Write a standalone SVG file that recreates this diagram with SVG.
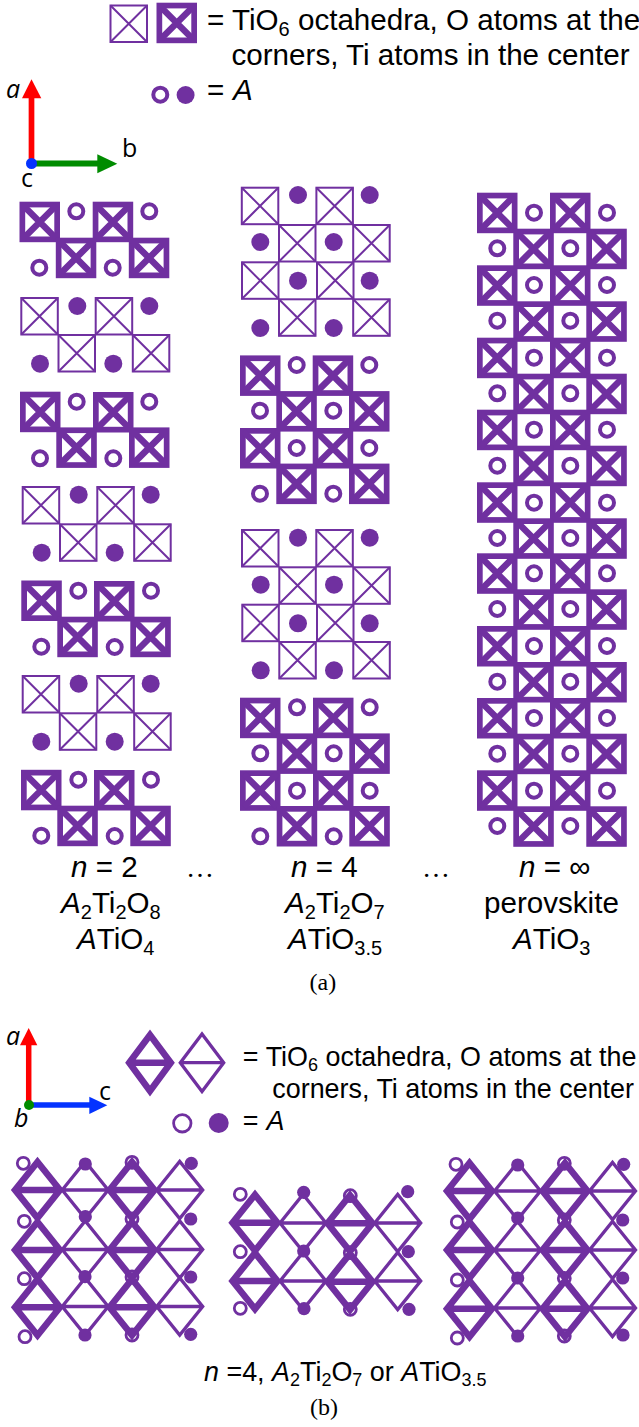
<svg xmlns="http://www.w3.org/2000/svg" width="639" height="1427" viewBox="0 0 639 1427">
<style>
.p{fill:#7030a0}
.tl{fill:#fff;stroke:#7030a0;stroke-width:2}
.x1{stroke:#7030a0;stroke-width:2}
.x2{stroke:#7030a0;stroke-width:6.5}
.o{fill:#fff;stroke:#7030a0;stroke-width:4}
.d1{fill:none;stroke:#7030a0;stroke-width:3.3;stroke-miterlimit:10}
.d2{fill:none;stroke:#7030a0;stroke-width:6.5;stroke-miterlimit:10}
text{font-family:"Liberation Sans",Arial,sans-serif;fill:#000}
.t{font-size:29.6px}
.s{font-size:26.9px}
.ax{font-family:"Open Sans",sans-serif;font-size:25px}
.cap{font-family:"Liberation Serif",serif;font-size:24px}
.dots{font-family:"Liberation Serif",serif;font-size:28px}
.i{font-style:italic}
</style>
<defs>
<g id="T"><rect class="tl" x="1" y="1" width="36.5" height="36.5"/><path class="x1" d="M1 1L37.5 37.5M37.5 1L1 37.5"/></g>
<g id="B"><rect x="2.85" y="2.85" width="34.8" height="34.8" fill="#fff" stroke="#7030a0" stroke-width="5.7"/><path class="x2" d="M3.5 3.5L37 37M37 3.5L3.5 37"/></g>
<circle id="O" class="o" r="7"/>
<circle id="F" class="p" r="9"/>
<g id="DB"><path class="d2" d="M-22.5 0L0 -28L22.5 0L0 28ZM-22.5 0H22.5"/></g>
<g id="DT"><path class="d1" d="M-23 0L0 -28.5L23 0L0 28.5ZM-23 0H23"/></g>
<circle id="o2" r="6" fill="none" stroke="#7030a0" stroke-width="2.8"/>
<circle id="f2" class="p" r="6.6"/>
</defs>

<g id="legend-a">
<use href="#T" x="109.5" y="4.5"/>
<use href="#B" x="156.5" y="2.7"/>
<text class="t" x="207" y="30">=</text>
<text class="t" x="232" y="30">TiO<tspan font-size="20" dy="6">6</tspan><tspan dy="-6"> octahedra, O atoms at the</tspan></text>
<text class="t" x="231.5" y="65">corners, Ti atoms in the center</text>
<circle class="o" cx="160.3" cy="94.7" r="7"/>
<circle class="p" cx="185.6" cy="95" r="9"/>
<text class="t" x="207" y="100">=</text>
<text class="t i" x="233" y="100">A</text>
</g>

<g id="axes-a">
<path d="M31.5 166V97" stroke="#f00" stroke-width="5.7"/><path d="M31.5 79.3L22 98.3H41.3Z" fill="#f00"/>
<path d="M31 163.6H98" stroke="#008c00" stroke-width="6"/><path d="M117.3 163.8L97.3 154.3V173.3Z" fill="#008c00"/>
<circle cx="31.5" cy="163.5" r="5.5" fill="#0433ff"/>
<text class="ax i" x="6" y="98">a</text>
<text class="ax" x="122" y="157">b</text>
<text class="ax" x="21" y="187">c</text>
</g>

<g id="col-n2">
<use href="#B" x="19.5" y="201.7"/><use href="#B" x="92.7" y="201.7"/><use href="#B" x="55.8" y="237.7"/><use href="#B" x="128.8" y="237.7"/>
<use href="#O" x="76.3" y="211.3"/><use href="#O" x="149.3" y="211.3"/><use href="#O" x="39.3" y="267.7"/><use href="#O" x="112.7" y="267.7"/>
<use href="#T" x="20.3" y="297"/><use href="#T" x="94.7" y="297"/><use href="#T" x="57.5" y="334"/><use href="#T" x="131.8" y="334"/>
<use href="#F" x="77.3" y="306"/><use href="#F" x="149.3" y="306"/><use href="#F" x="40" y="363.7"/><use href="#F" x="113.3" y="363.7"/>
<use href="#B" x="20" y="391.7"/><use href="#B" x="93" y="392"/><use href="#B" x="56.3" y="427.4"/><use href="#B" x="129" y="427.4"/>
<use href="#O" x="76.7" y="401.7"/><use href="#O" x="149.3" y="401.7"/><use href="#O" x="40" y="458.3"/><use href="#O" x="113.3" y="458.3"/>
<use href="#T" x="21.7" y="486"/><use href="#T" x="96.3" y="486"/><use href="#T" x="59" y="523.3"/><use href="#T" x="133.2" y="523.3"/>
<use href="#F" x="78.7" y="494.7"/><use href="#F" x="150.7" y="494.7"/><use href="#F" x="41.7" y="552.7"/><use href="#F" x="114.7" y="552.7"/>
<use href="#B" x="21.3" y="580.5"/><use href="#B" x="94" y="581"/><use href="#B" x="57.3" y="616.7"/><use href="#B" x="130.3" y="616.7"/>
<use href="#O" x="78.3" y="590.7"/><use href="#O" x="151" y="590.7"/><use href="#O" x="41.3" y="646.7"/><use href="#O" x="114.7" y="647"/>
<use href="#T" x="21.7" y="675"/><use href="#T" x="96.3" y="675"/><use href="#T" x="58.8" y="712.3"/><use href="#T" x="133.2" y="712.3"/>
<use href="#F" x="78.7" y="683.7"/><use href="#F" x="150.7" y="683.7"/><use href="#F" x="41.3" y="741.7"/><use href="#F" x="114.7" y="741.7"/>
<use href="#B" x="21" y="769.8"/><use href="#B" x="94" y="770"/><use href="#B" x="57.3" y="805.7"/><use href="#B" x="130.3" y="805.7"/>
<use href="#O" x="78.3" y="779.7"/><use href="#O" x="151" y="779.7"/><use href="#O" x="41.3" y="835.7"/><use href="#O" x="114.7" y="836"/>
</g>

<g id="col-n4">
<use href="#T" x="240.8" y="186.7"/><use href="#T" x="315.4" y="186.7"/><use href="#T" x="278" y="224"/><use href="#T" x="352.2" y="224"/>
<use href="#T" x="241" y="261.3"/><use href="#T" x="316" y="261.3"/><use href="#T" x="278" y="298.3"/><use href="#T" x="352.2" y="298.3"/>
<use href="#F" x="298" y="195"/><use href="#F" x="369.7" y="195"/><use href="#F" x="260.3" y="242"/><use href="#F" x="333.7" y="242"/><use href="#F" x="298" y="280.7"/><use href="#F" x="369.7" y="280.7"/><use href="#F" x="260.3" y="328"/><use href="#F" x="333.7" y="328"/>
<use href="#B" x="240" y="355.4"/><use href="#B" x="312.7" y="355.4"/><use href="#B" x="276.3" y="391.1"/><use href="#B" x="349" y="391.1"/>
<use href="#B" x="240" y="428"/><use href="#B" x="312.7" y="428"/><use href="#B" x="276.3" y="463.6"/><use href="#B" x="349" y="463.6"/>
<use href="#O" x="296.7" y="365"/><use href="#O" x="369.3" y="365"/><use href="#O" x="260" y="410.7"/><use href="#O" x="333.3" y="410.7"/><use href="#O" x="296.7" y="448"/><use href="#O" x="369.3" y="448"/><use href="#O" x="260" y="493.7"/><use href="#O" x="333.3" y="493.7"/>
<use href="#T" x="241" y="529"/><use href="#T" x="315.3" y="529"/><use href="#T" x="278.3" y="566.3"/><use href="#T" x="352.3" y="566.3"/>
<use href="#T" x="241.3" y="603.7"/><use href="#T" x="316" y="603.7"/><use href="#T" x="278.3" y="641"/><use href="#T" x="352.3" y="641"/>
<use href="#F" x="298" y="537.7"/><use href="#F" x="369.7" y="537.7"/><use href="#F" x="260.7" y="584.7"/><use href="#F" x="334" y="584.7"/><use href="#F" x="298" y="623.3"/><use href="#F" x="369.7" y="623.3"/><use href="#F" x="260.7" y="670.3"/><use href="#F" x="334" y="670.3"/>
<use href="#B" x="240" y="697.7"/><use href="#B" x="313" y="697.7"/><use href="#B" x="276.7" y="733.4"/><use href="#B" x="349.3" y="733.4"/>
<use href="#B" x="240" y="770.3"/><use href="#B" x="313" y="770.3"/><use href="#B" x="276.7" y="806"/><use href="#B" x="349.3" y="806"/>
<use href="#O" x="297" y="707.3"/><use href="#O" x="369.7" y="707.3"/><use href="#O" x="260.3" y="753.3"/><use href="#O" x="333.7" y="753.3"/><use href="#O" x="297" y="790.7"/><use href="#O" x="369.7" y="790.7"/><use href="#O" x="260.3" y="836.3"/><use href="#O" x="333.7" y="836.3"/>
</g>

<g id="col-perovskite">
<use href="#B" x="477" y="192.7"/><use href="#B" x="550" y="192.7"/><use href="#B" x="513.3" y="228.7"/><use href="#B" x="586.3" y="228.7"/>
<use href="#B" x="477" y="265.3"/><use href="#B" x="550" y="265.3"/><use href="#B" x="513.3" y="301.3"/><use href="#B" x="586.3" y="301.3"/>
<use href="#B" x="477" y="337.7"/><use href="#B" x="550" y="337.7"/><use href="#B" x="513.3" y="373.7"/><use href="#B" x="586.3" y="373.7"/>
<use href="#B" x="477" y="409.7"/><use href="#B" x="550" y="409.7"/><use href="#B" x="513.3" y="445.7"/><use href="#B" x="586.3" y="445.7"/>
<use href="#B" x="477" y="482.3"/><use href="#B" x="550" y="482.3"/><use href="#B" x="513.3" y="518.3"/><use href="#B" x="586.3" y="518.3"/>
<use href="#B" x="477" y="553.3"/><use href="#B" x="550" y="553.3"/><use href="#B" x="513.3" y="589.3"/><use href="#B" x="586.3" y="589.3"/>
<use href="#B" x="477" y="626"/><use href="#B" x="550" y="626"/><use href="#B" x="513.3" y="662"/><use href="#B" x="586.3" y="662"/>
<use href="#B" x="477" y="698"/><use href="#B" x="550" y="698"/><use href="#B" x="513.3" y="733.7"/><use href="#B" x="586.3" y="733.7"/>
<use href="#B" x="477" y="770.3"/><use href="#B" x="550" y="770.3"/><use href="#B" x="513.3" y="806.3"/><use href="#B" x="586.3" y="806.3"/>
<use href="#O" x="534" y="212.7"/><use href="#O" x="607" y="212.7"/><use href="#O" x="497.3" y="248.3"/><use href="#O" x="570.3" y="248.3"/>
<use href="#O" x="534" y="285"/><use href="#O" x="607" y="285"/><use href="#O" x="497.3" y="320.7"/><use href="#O" x="570.3" y="320.7"/>
<use href="#O" x="534" y="357.7"/><use href="#O" x="607" y="357.7"/><use href="#O" x="497.3" y="393.3"/><use href="#O" x="570.3" y="393.3"/>
<use href="#O" x="534" y="429.7"/><use href="#O" x="607" y="429.7"/><use href="#O" x="497.3" y="465.7"/><use href="#O" x="570.3" y="465.7"/>
<use href="#O" x="534" y="502.7"/><use href="#O" x="607" y="502.7"/><use href="#O" x="497.3" y="538"/><use href="#O" x="570.3" y="538"/>
<use href="#O" x="534" y="573.3"/><use href="#O" x="607" y="573.3"/><use href="#O" x="497.3" y="609"/><use href="#O" x="570.3" y="609"/>
<use href="#O" x="534" y="646"/><use href="#O" x="607" y="646"/><use href="#O" x="497.3" y="681.7"/><use href="#O" x="570.3" y="681.7"/>
<use href="#O" x="534" y="718"/><use href="#O" x="607" y="718"/><use href="#O" x="497.3" y="753.7"/><use href="#O" x="570.3" y="753.7"/>
<use href="#O" x="534" y="790.7"/><use href="#O" x="607" y="790.7"/><use href="#O" x="497.3" y="826"/><use href="#O" x="570.3" y="826"/>
</g>

<g id="labels-a">
<text class="t" x="71" y="876.7"><tspan class="i">n</tspan> = 2</text>
<text class="dots" x="186" y="876.7">…</text>
<text class="t" x="291" y="876.7"><tspan class="i">n</tspan> = 4</text>
<text class="dots" x="422" y="876.7">…</text>
<text class="t" x="519" y="876.7"><tspan class="i">n</tspan> = ∞</text>
<text class="t" x="61" y="912.7"><tspan class="i">A</tspan><tspan font-size="20" dy="6">2</tspan><tspan dy="-6">Ti</tspan><tspan font-size="20" dy="6">2</tspan><tspan dy="-6">O</tspan><tspan font-size="20" dy="6">8</tspan></text>
<text class="t" x="77" y="949"><tspan class="i">A</tspan>TiO<tspan font-size="20" dy="6">4</tspan></text>
<text class="t" x="285" y="912.7"><tspan class="i">A</tspan><tspan font-size="20" dy="6">2</tspan><tspan dy="-6">Ti</tspan><tspan font-size="20" dy="6">2</tspan><tspan dy="-6">O</tspan><tspan font-size="20" dy="6">7</tspan></text>
<text class="t" x="288" y="949"><tspan class="i">A</tspan>TiO<tspan font-size="20" dy="6">3.5</tspan></text>
<text class="t" x="484" y="912.7">perovskite</text>
<text class="t" x="513" y="949"><tspan class="i">A</tspan>TiO<tspan font-size="20" dy="6">3</tspan></text>
<text class="cap" x="309.5" y="990">(a)</text>
</g>

<g id="axes-b">
<path d="M28.7 1108V1044" stroke="#f00" stroke-width="5.5"/><path d="M28.7 1028L20 1045.3H37.3Z" fill="#f00"/>
<path d="M29 1105H90" stroke="#0433ff" stroke-width="5.5"/><path d="M107.3 1105.3L89.3 1096.7V1114Z" fill="#0433ff"/>
<circle cx="29" cy="1105" r="5" fill="#008c00"/>
<text class="ax i" x="6" y="1045">a</text>
<text class="ax" x="99" y="1100">c</text>
<text class="ax i" x="14" y="1127">b</text>
</g>

<g id="legend-b">
<path class="d2" d="M129.2 1062.7L150 1035L170.8 1062.7L150 1091ZM129.2 1062.7H170.8"/>
<path class="d1" d="M180.3 1062.7L202 1034L223.7 1062.7L202 1091.5ZM180.3 1062.7H223.7"/>
<text class="s" x="242.7" y="1066">=</text>
<text class="s" x="265.7" y="1066">TiO<tspan font-size="18" dy="5">6</tspan><tspan dy="-5"> octahedra, O atoms at the</tspan></text>
<text class="s" x="272.3" y="1098.3">corners, Ti atoms in the center</text>
<circle cx="182.3" cy="1123.3" r="8.7" fill="#fff" stroke="#7030a0" stroke-width="2.8"/>
<circle class="p" cx="218.7" cy="1123" r="10"/>
<text class="s" x="242.7" y="1130">=</text>
<text class="s i" x="266.5" y="1130">A</text>
</g>

<g id="struct-left">
<use href="#DB" x="37.5" y="1190"/><use href="#DB" x="37.5" y="1250"/><use href="#DB" x="37.5" y="1307.3"/>
<use href="#DB" x="132" y="1190"/><use href="#DB" x="132" y="1250"/><use href="#DB" x="132" y="1307.3"/>
<use href="#DT" x="85.2" y="1190"/><use href="#DT" x="85.2" y="1249.5"/><use href="#DT" x="85.2" y="1306.5"/>
<use href="#DT" x="179.7" y="1190"/><use href="#DT" x="179.7" y="1249.5"/><use href="#DT" x="179.7" y="1306.5"/>
<use href="#o2" x="23.3" y="1163.3"/><use href="#o2" x="24.3" y="1221.3"/><use href="#o2" x="24.3" y="1278.7"/><use href="#o2" x="25" y="1336.7"/>
<use href="#f2" x="85.3" y="1164"/><use href="#f2" x="85.3" y="1216.7"/><use href="#f2" x="85" y="1276.7"/><use href="#f2" x="85" y="1335"/>
<use href="#o2" x="132" y="1162.3"/><use href="#o2" x="132" y="1219"/><use href="#o2" x="132" y="1277"/><use href="#o2" x="132" y="1335"/>
<use href="#f2" x="191.3" y="1163.3"/><use href="#f2" x="190.7" y="1219"/><use href="#f2" x="190.7" y="1277"/><use href="#f2" x="190.7" y="1334.3"/>
</g>

<g id="struct-middle">
<use href="#DB" x="255" y="1222.7"/><use href="#DB" x="255" y="1281"/>
<use href="#DB" x="350" y="1223.3"/><use href="#DB" x="350" y="1281.7"/>
<use href="#DT" x="303" y="1223"/><use href="#DT" x="303" y="1281"/>
<use href="#DT" x="397.7" y="1223"/><use href="#DT" x="397.7" y="1281"/>
<use href="#o2" x="240.3" y="1194.3"/><use href="#o2" x="240.3" y="1251.7"/><use href="#o2" x="240.3" y="1308.3"/>
<use href="#f2" x="303.7" y="1192.3"/><use href="#f2" x="303.7" y="1251"/><use href="#f2" x="304" y="1308.7"/>
<use href="#o2" x="350.3" y="1195.7"/><use href="#o2" x="350.3" y="1252.7"/><use href="#o2" x="350.3" y="1309.3"/>
<use href="#f2" x="407.7" y="1191.7"/><use href="#f2" x="408.3" y="1251.7"/><use href="#f2" x="409" y="1309.3"/>
</g>

<g id="struct-right">
<use href="#DB" x="469.5" y="1191"/><use href="#DB" x="469.5" y="1250"/><use href="#DB" x="469.5" y="1308.7"/>
<use href="#DB" x="565" y="1191"/><use href="#DB" x="565" y="1250"/><use href="#DB" x="565" y="1308.7"/>
<use href="#DT" x="517.5" y="1191"/><use href="#DT" x="517.5" y="1250"/><use href="#DT" x="517.5" y="1308"/>
<use href="#DT" x="612.5" y="1191"/><use href="#DT" x="612.5" y="1250"/><use href="#DT" x="612.5" y="1308"/>
<use href="#o2" x="456" y="1164.3"/><use href="#o2" x="457.3" y="1222"/><use href="#o2" x="457.3" y="1280"/><use href="#o2" x="457.3" y="1338"/>
<use href="#f2" x="517.7" y="1165"/><use href="#f2" x="517.7" y="1218"/><use href="#f2" x="517.7" y="1278"/><use href="#f2" x="517.7" y="1336"/>
<use href="#o2" x="564.3" y="1163.3"/><use href="#o2" x="564.3" y="1220"/><use href="#o2" x="564.3" y="1278.3"/><use href="#o2" x="564.3" y="1336"/>
<use href="#f2" x="623.7" y="1164.3"/><use href="#f2" x="622.7" y="1220"/><use href="#f2" x="622.7" y="1278"/><use href="#f2" x="623" y="1335"/>
</g>

<g id="labels-b">
<text class="s" x="204" y="1381"><tspan class="i">n</tspan> =4, <tspan class="i">A</tspan><tspan font-size="18" dy="5">2</tspan><tspan dy="-5">Ti</tspan><tspan font-size="18" dy="5">2</tspan><tspan dy="-5">O</tspan><tspan font-size="18" dy="5">7</tspan><tspan dy="-5"> or </tspan><tspan class="i">A</tspan>TiO<tspan font-size="18" dy="5">3.5</tspan></text>
<text class="cap" x="310" y="1415">(b)</text>
</g>
</svg>
